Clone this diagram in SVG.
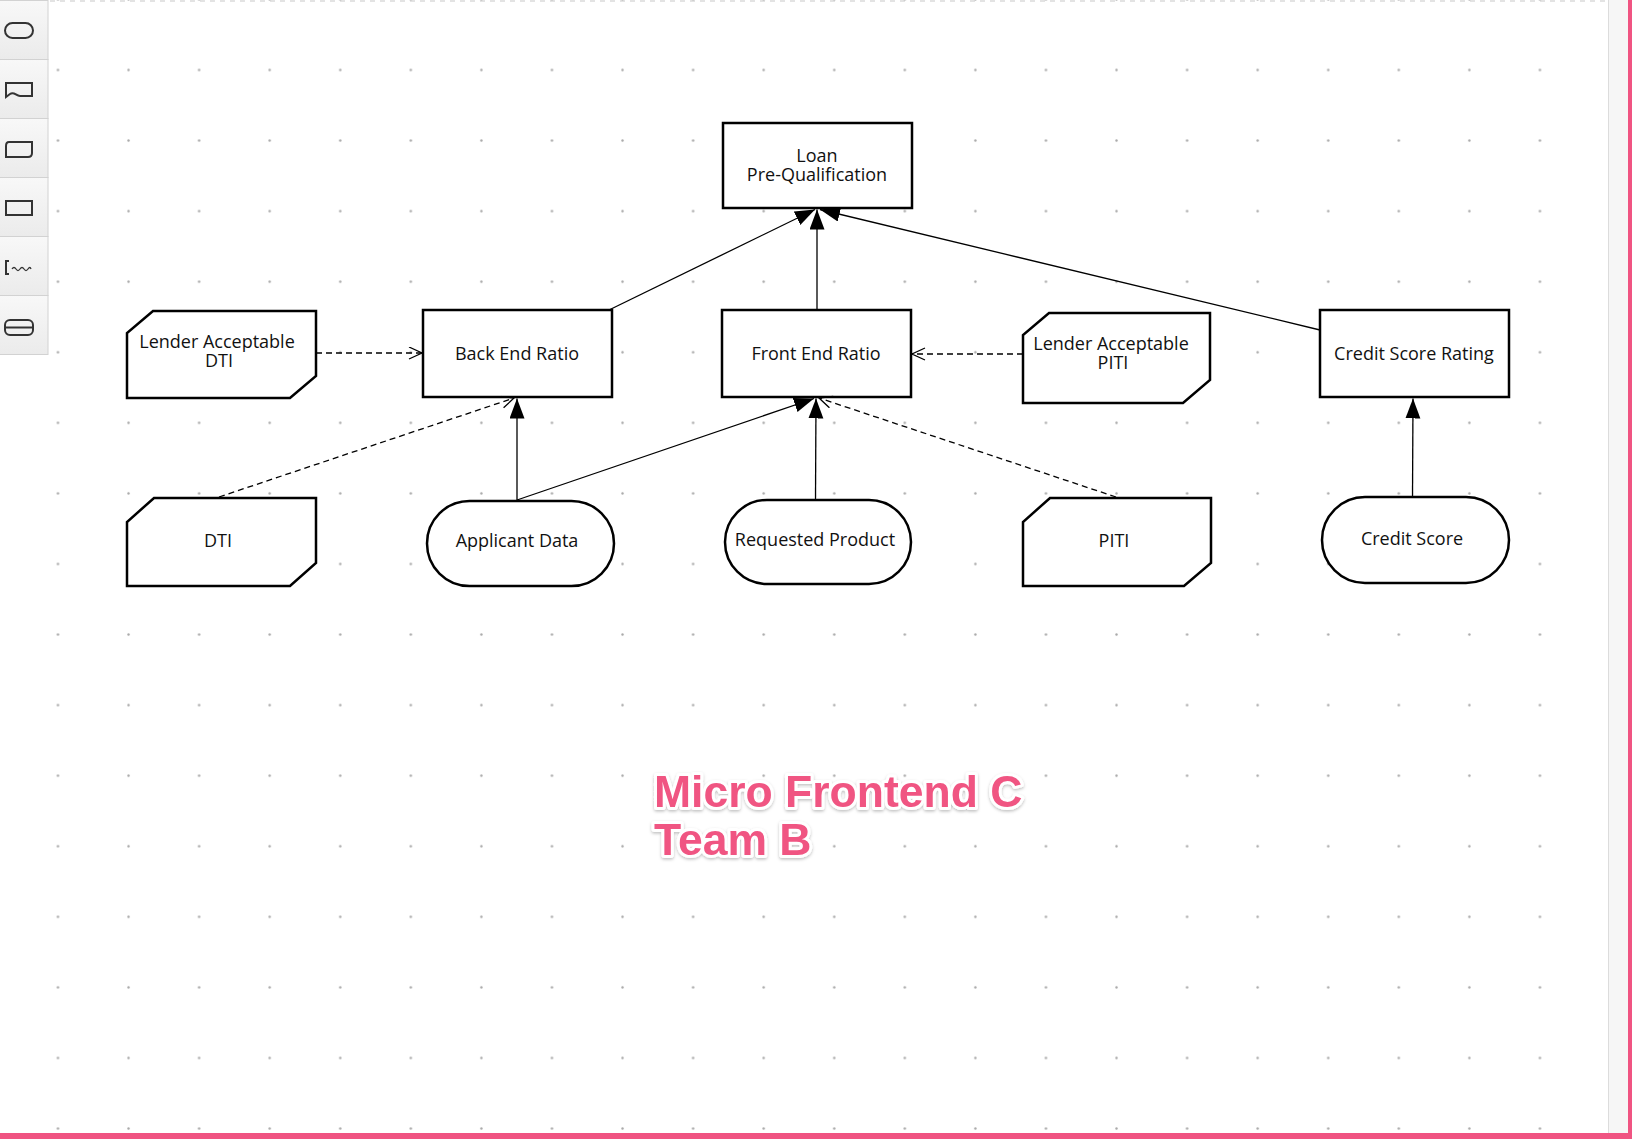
<svg xmlns="http://www.w3.org/2000/svg" width="1632" height="1139" viewBox="0 0 1632 1139">
<style>
.node{fill:#fff;stroke:#000;stroke-width:2.5}
.lbl{font-family:"Open Sans","DejaVu Sans",sans-serif;font-size:18px;fill:#111;text-anchor:middle}
.conn{fill:none;stroke:#000;stroke-width:1.3}
.dash{stroke-dasharray:6 4}
.btn{fill:url(#btnGrad);stroke:#d2d2d2;stroke-width:1}
.ico{fill:none;stroke:#333;stroke-width:2}
.big{font-family:"Liberation Sans","Arial",sans-serif;font-weight:bold;font-size:44.5px;fill:#f05482;stroke:#fff;stroke-width:6;stroke-linejoin:round;paint-order:stroke}
</style>
<defs>
<pattern id="dots" x="22.7" y="34.7" width="70.57" height="70.57" patternUnits="userSpaceOnUse">
<circle cx="35.285" cy="35.285" r="1.2" fill="#a8a8a8"/>
</pattern>
<linearGradient id="btnGrad" x1="0" y1="0" x2="0" y2="1">
<stop offset="0" stop-color="#f8f8f8"/>
<stop offset="1" stop-color="#ebebeb"/>
</linearGradient>
<marker id="filled" markerWidth="22" markerHeight="16" refX="20" refY="7.5" orient="auto" markerUnits="userSpaceOnUse">
<path d="M0,0 L20,7.5 L0,15 z" fill="#000"/>
</marker>
<marker id="open" markerWidth="16" markerHeight="14" refX="14" refY="6.5" orient="auto" markerUnits="userSpaceOnUse">
<path d="M1,0.5 L14,6.5 L1,12.5" fill="none" stroke="#000" stroke-width="1.3"/>
</marker>
<filter id="shadow" x="-10%" y="-30%" width="120%" height="160%">
<feDropShadow dx="0" dy="1.5" stdDeviation="1.5" flood-color="#000" flood-opacity="0.25"/>
</filter>
</defs>

<rect x="0" y="0" width="1632" height="1139" fill="#fff"/>
<rect x="0" y="0" width="1608" height="1133" fill="url(#dots)"/>
<line x1="50" y1="1" x2="1606" y2="1" stroke="#c8c8c8" stroke-width="1.2" stroke-dasharray="5 5"/>

<!-- right panel and pink border -->
<rect x="1608" y="0" width="20" height="1133" fill="#f6f6f6"/>
<line x1="1608.5" y1="0" x2="1608.5" y2="1133" stroke="#dcdcdc" stroke-width="1"/>
<rect x="1628" y="0" width="4" height="1139" fill="#f05482"/>
<rect x="0" y="1133" width="1632" height="6" fill="#f05482"/>

<!-- toolbar -->
<g id="toolbar">
<rect class="btn" x="-1" y="0.5" width="49" height="59"/>
<rect class="btn" x="-1" y="59.5" width="49" height="59"/>
<rect class="btn" x="-1" y="118.5" width="49" height="59"/>
<rect class="btn" x="-1" y="177.5" width="49" height="59"/>
<rect class="btn" x="-1" y="236.5" width="49" height="59"/>
<rect class="btn" x="-1" y="295.5" width="49" height="59"/>
<rect class="ico" x="5" y="23" width="28" height="15" rx="7.5"/>
<path class="ico" d="M6,83 L32,83 L32,96 L20,96 C16,96 14,91 10,94 L6,97 Z"/>
<path class="ico" d="M9,142 L32,142 L32,153 Q32,157 28,157 L6,157 L6,146 Q6,142 9,142 Z"/>
<rect class="ico" x="6" y="201" width="26" height="14"/>
<path class="ico" d="M9,261 L6,261 L6,274 L9,274" stroke-width="1.5"/>
<path d="M12,269 q2,-3 4,0 t4,0 t4,0 t4,0 t3,0" fill="none" stroke="#333" stroke-width="1.3"/>
<rect class="ico" x="5" y="320" width="28" height="15" rx="5"/>
<line class="ico" x1="5" y1="327.5" x2="33" y2="327.5"/>
</g>

<!-- nodes -->
<g id="loan">
<rect class="node" x="723" y="123" width="189" height="85"/>
<text class="lbl" x="817" y="162">Loan</text>
<text class="lbl" x="817" y="181">Pre-Qualification</text>
</g>
<g id="backEnd">
<rect class="node" x="423" y="310" width="189" height="87"/>
<text class="lbl" x="517" y="359.5">Back End Ratio</text>
</g>
<g id="frontEnd">
<rect class="node" x="722" y="310" width="189" height="87"/>
<text class="lbl" x="816" y="359.5">Front End Ratio</text>
</g>
<g id="creditScoreRating">
<rect class="node" x="1320" y="310" width="189" height="87"/>
<text class="lbl" x="1414" y="359.5">Credit Score Rating</text>
</g>
<g id="lenderDTI">
<path class="node" d="M153,311 L316,311 L316,376 L290,398 L127,398 L127,333 Z"/>
<text class="lbl" x="217" y="347.5">Lender Acceptable</text>
<text class="lbl" x="219" y="366.5">DTI</text>
</g>
<g id="lenderPITI">
<path class="node" d="M1049,313 L1210,313 L1210,380 L1183,403 L1023,403 L1023,335 Z"/>
<text class="lbl" x="1111" y="350">Lender Acceptable</text>
<text class="lbl" x="1113" y="369">PITI</text>
</g>
<g id="dti">
<path class="node" d="M154,498 L316,498 L316,563 L290,586 L127,586 L127,522 Z"/>
<text class="lbl" x="218" y="546.5">DTI</text>
</g>
<g id="applicantData">
<rect class="node" x="427" y="501" width="187" height="85" rx="42.5"/>
<text class="lbl" x="517" y="547">Applicant Data</text>
</g>
<g id="requestedProduct">
<rect class="node" x="725" y="500" width="186" height="84" rx="42"/>
<text class="lbl" x="815" y="545.5">Requested Product</text>
</g>
<g id="piti">
<path class="node" d="M1050,498 L1211,498 L1211,563 L1184,586 L1023,586 L1023,522 Z"/>
<text class="lbl" x="1114" y="546.5">PITI</text>
</g>
<g id="creditScore">
<rect class="node" x="1322" y="497" width="187" height="86" rx="43"/>
<text class="lbl" x="1412" y="544.5">Credit Score</text>
</g>

<!-- connectors -->
<g id="connectors">
<line class="conn" x1="609" y1="310" x2="815" y2="209.5" marker-end="url(#filled)"/>
<line class="conn" x1="817" y1="310" x2="817" y2="209.5" marker-end="url(#filled)"/>
<line class="conn" x1="1320" y1="330" x2="820" y2="209.5" marker-end="url(#filled)"/>
<line class="conn dash" x1="316" y1="353" x2="422" y2="353" marker-end="url(#open)"/>
<line class="conn dash" x1="1023" y1="354" x2="912" y2="354" marker-end="url(#open)"/>
<line class="conn dash" x1="219" y1="497" x2="514" y2="398" marker-end="url(#open)"/>
<line class="conn" x1="517" y1="500" x2="517" y2="398.5" marker-end="url(#filled)"/>
<line class="conn" x1="517" y1="500" x2="814" y2="398.5" marker-end="url(#filled)"/>
<line class="conn" x1="815.5" y1="499" x2="816" y2="398.5" marker-end="url(#filled)"/>
<line class="conn dash" x1="1116" y1="497" x2="819" y2="398" marker-end="url(#open)"/>
<line class="conn" x1="1412.5" y1="497" x2="1413" y2="398.5" marker-end="url(#filled)"/>
</g>

<!-- title -->
<g id="title" filter="url(#shadow)">
<text class="big" x="654" y="807">Micro Frontend C</text>
<text class="big" x="654" y="855">Team B</text>
</g>
</svg>
